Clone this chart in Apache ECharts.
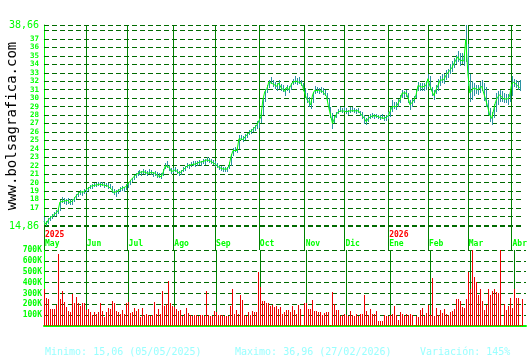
<!DOCTYPE html>
<html><head><meta charset="utf-8">
<script src="https://cdn.jsdelivr.net/npm/echarts@6/dist/echarts.min.js"></script>
<style>html,body{margin:0;padding:0;background:#fff}#c{width:530px;height:360px}</style>
</head><body><div id="c"></div>
<script>
const monthNames = ['May','Jun','Jul','Ago','Sep','Oct','Nov','Dic','Ene','Feb','Mar','Abr'];
const monthStart = [0,21,42,65,86,108,131,151,173,193,213,235];
const yearNames = ['2025','2026'];
const yearStart = [0,173];

const close = [
15.4,15.06,15.5,15.8,16.0,16.2,16.4,16.6,17.7,17.9,17.8,17.7,17.9,17.6,17.8,18.0,18.4,18.6,18.9,18.7,18.9,
19.1,19.3,19.5,19.6,19.8,19.7,19.9,19.8,19.9,19.7,19.8,19.6,19.5,19.2,18.8,18.7,19.0,19.2,19.3,19.2,19.5,
19.7,20.1,20.4,20.6,20.9,21.1,21.2,21.0,21.3,21.2,21.1,21.3,21.2,21.0,21.1,20.8,20.9,20.7,21.3,22.0,22.1,21.8,21.3,
21.4,21.5,21.3,21.1,21.2,21.5,21.7,22.0,21.9,22.1,22.3,22.2,22.3,22.4,22.3,22.5,22.4,22.7,22.6,22.5,22.4,
22.2,22.0,21.8,21.7,21.6,21.5,21.6,22.0,23.1,23.8,23.9,23.8,25.2,25.3,25.1,25.4,25.6,25.9,26.0,26.3,26.4,26.8,
27.0,27.8,29.8,30.8,31.1,31.9,32.1,31.7,31.5,31.4,31.8,31.3,31.1,30.8,31.3,31.0,31.5,31.9,32.1,32.0,32.1,31.8,31.4,
30.6,29.9,29.6,29.2,30.4,30.9,31.0,30.9,31.0,30.8,30.6,30.2,29.0,28.0,27.0,27.6,28.1,28.4,28.6,28.5,
28.6,28.4,28.3,28.5,28.6,28.5,28.4,28.5,28.2,28.0,27.6,27.2,27.6,27.8,27.9,27.8,27.9,27.8,27.7,27.8,27.6,27.6,
27.9,28.1,29.0,29.2,29.0,29.4,29.8,30.6,30.5,30.6,30.0,29.2,29.5,29.8,30.4,31.5,31.4,31.3,31.4,31.5,
32.3,31.4,30.8,30.3,31.0,31.5,32.1,32.3,32.2,32.7,32.9,33.3,33.6,34.1,34.5,34.9,34.5,34.7,34.4,36.96,
33.1,30.6,30.9,31.2,31.1,31.0,31.2,31.4,31.2,29.8,29.0,28.0,27.6,28.6,29.6,30.1,30.4,30.2,29.9,30.0,29.9,30.2,
31.6,31.9,31.7,31.5,31.2
];
const high = [
15.9,15.5,15.8,16.1,16.3,16.5,16.7,17.0,17.9,18.3,18.2,18.0,18.2,18.0,18.1,18.3,18.6,18.9,19.1,19.0,19.2,
19.3,19.5,19.7,19.8,20.0,19.9,20.1,20.1,20.1,20.0,20.0,19.9,19.8,19.6,19.2,19.1,19.3,19.5,19.6,19.5,19.8,
20.0,20.3,20.6,20.9,21.1,21.4,21.5,21.4,21.6,21.5,21.4,21.6,21.5,21.3,21.4,21.2,21.1,21.1,21.6,22.3,22.5,22.1,21.7,
21.7,21.8,21.6,21.4,21.5,21.8,22.0,22.3,22.2,22.4,22.6,22.5,22.6,22.7,22.6,22.8,22.8,23.0,22.9,22.8,22.7,
22.5,22.3,22.1,22.0,21.9,21.8,21.9,22.4,23.4,24.1,24.2,24.1,25.6,25.6,25.5,25.7,25.9,26.2,26.3,26.6,26.8,27.3,
27.4,28.6,30.0,31.1,31.5,32.2,32.5,32.2,31.9,31.8,32.2,31.7,31.5,31.2,31.6,31.4,31.8,32.3,32.6,32.4,32.5,32.2,31.8,
31.2,30.6,30.1,29.8,30.7,31.4,31.3,31.2,31.3,31.2,31.0,30.6,30.0,28.9,28.2,27.9,28.4,28.7,28.9,28.8,
28.9,28.8,28.6,28.9,28.9,28.8,28.7,28.8,28.5,28.3,28.0,27.7,27.9,28.1,28.2,28.1,28.1,28.0,28.0,28.1,27.9,28.0,
28.3,29.0,29.8,29.6,29.5,29.9,30.4,31.0,30.9,31.0,30.6,29.8,29.9,30.2,31.0,31.9,31.8,31.8,31.8,32.0,
32.8,32.6,31.3,31.0,31.5,32.3,32.6,32.9,32.8,33.3,33.5,34.0,34.4,34.8,35.1,35.6,35.3,35.4,35.2,38.66,
36.4,32.9,32.0,31.8,31.6,31.5,31.9,32.1,31.8,31.3,29.8,28.8,28.3,29.3,30.6,30.8,31.0,30.8,30.6,30.5,30.5,30.8,
32.6,32.3,32.1,32.0,32.1
];
const low = [
15.1,14.86,15.1,15.4,15.7,15.9,16.1,16.3,16.6,17.6,17.5,17.4,17.5,17.3,17.4,17.7,18.0,18.3,18.5,18.4,18.6,
18.8,19.0,19.2,19.3,19.5,19.5,19.6,19.5,19.6,19.4,19.5,19.3,19.2,18.8,18.5,18.3,18.7,18.9,19.0,18.9,19.1,
19.4,19.7,20.1,20.3,20.6,20.8,20.9,20.8,21.0,20.9,20.8,21.0,20.9,20.7,20.8,20.5,20.6,20.4,20.8,21.6,21.7,21.4,21.0,
21.1,21.2,21.0,20.8,20.9,21.2,21.4,21.7,21.6,21.8,22.0,21.9,22.0,22.1,22.0,22.2,22.1,22.4,22.3,22.2,22.1,
21.9,21.7,21.5,21.4,21.3,21.2,21.3,21.6,22.0,23.2,23.6,23.5,24.0,25.0,24.8,25.1,25.3,25.6,25.7,26.0,26.1,26.3,
26.5,27.0,28.0,29.6,30.6,31.2,31.7,31.3,31.1,30.8,31.1,30.9,30.7,30.3,30.8,30.6,31.0,31.5,31.7,31.6,31.7,31.4,30.9,
30.0,29.4,28.9,28.7,29.4,30.5,30.6,30.5,30.6,30.4,30.2,29.6,28.5,27.6,26.4,27.1,27.7,28.1,28.3,28.2,
28.3,28.1,28.0,28.2,28.3,28.2,28.1,28.2,27.9,27.5,26.9,26.8,27.2,27.5,27.6,27.5,27.6,27.5,27.4,27.5,27.3,27.3,
27.5,27.8,28.3,28.7,28.6,28.9,29.4,30.0,30.0,30.1,29.4,28.6,28.9,29.4,30.0,30.9,30.9,30.8,30.9,31.0,
31.3,31.0,30.3,29.8,30.5,30.9,31.4,31.8,31.7,32.1,32.4,32.8,33.1,33.6,34.0,34.3,33.8,34.0,33.8,34.3,
31.4,29.6,29.8,30.3,30.5,30.4,30.6,30.8,29.7,29.0,28.0,27.2,26.8,27.6,28.3,29.2,29.6,29.6,29.4,29.4,29.2,29.6,
30.3,31.3,31.2,31.0,30.9
];
const volumeK = [
340,257,250,155,160,160,195,663,248,325,223,175,140,125,297,210,270,210,183,210,210,
145,160,130,105,130,110,130,208,138,85,130,165,155,232,208,140,130,110,150,113,211,
223,120,128,168,140,160,80,168,98,110,104,92,98,220,110,160,110,324,187,205,416,208,187,
177,160,134,150,89,110,168,120,104,89,101,104,89,98,104,89,324,104,89,89,134,
131,104,98,98,89,89,92,187,342,110,150,110,287,241,98,89,131,98,141,125,131,500,
360,230,
226,211,211,187,196,174,187,159,174,110,131,150,147,131,187,144,110,196,156,12,
211,211,159,159,242,135,135,131,131,104,119,131,131,12,309,205,150,150,89,98,
110,104,92,135,104,89,110,92,113,113,287,141,104,159,110,110,135,49,49,49,
98,89,92,104,110,187,98,58,131,110,89,110,104,110,104,12,92,80,150,168,
89,119,196,104,443,89,168,104,150,119,156,110,104,131,135,156,251,251,226,174,
168,248,501,342,700,450,404,287,342,232,150,196,340,287,324,340,309,303,700,10,
202,150,180,260,168,340,260,260,10,251
];
const priceMin = 14.86, priceMax = 38.66;
const priceGrid = [14.86,15,16,17,18,19,20,21,22,23,24,25,26,27,28,29,30,31,32,33,34,35,36,37,38,38.66];
const priceLabels = [14.86,17,18,19,20,21,22,23,24,25,26,27,28,29,30,31,32,33,34,35,36,37,38.66];
const volMax = 700, volStep = 100;
const footer = ['Minimo: 15,06 (05/05/2025)','Maximo: 36,96 (27/02/2026)','Variación: 145%'];
const footerX = [45, 235, 420];

const MONO = '"DejaVu Sans Mono", monospace';
const N = close.length + 2;
const cats = Array.from({length: N}, (_, i) => String(i));
const isStart = (i) => monthStart.indexOf(i) >= 0;

function vRect(x, ya, yb, color) {
  const px = Math.round(x);
  const y0 = Math.round(Math.min(ya, yb)), y1 = Math.round(Math.max(ya, yb));
  return {type: 'rect', shape: {x: px, y: y0, width: 1, height: Math.max(1, y1 - y0)},
    style: {fill: color, stroke: null, lineWidth: 0}};
}

const chart = echarts.init(document.getElementById('c'), null, {renderer: 'canvas'});
chart.setOption({
  animation: false,
  backgroundColor: '#ffffff',
  grid: [
    {left: 44, right: 4, top: 25, height: 201},
    {left: 44, right: 4, top: 250, height: 76}
  ],
  xAxis: [
    {
      type: 'category', gridIndex: 0, data: cats, boundaryGap: false,
      axisLine: {show: false},
      axisTick: {show: true, interval: isStart, length: 24, lineStyle: {color: '#008000'}},
      axisLabel: {
        interval: isStart, align: 'left', margin: 4,
        formatter: (v) => {
          const idx = Number(v);
          const m = monthStart.indexOf(idx);
          const y = yearStart.indexOf(idx);
          return '{y|' + (y >= 0 ? yearNames[y] : ' ') + '}\n{m|' + (m >= 0 ? monthNames[m] : '') + '}';
        },
        rich: {
          y: {color: '#ff0000', fontFamily: MONO, fontSize: 8, fontWeight: 'bold', lineHeight: 9, padding: [0,0,0,1]},
          m: {color: '#00ff00', fontFamily: MONO, fontSize: 8, fontWeight: 'bold', lineHeight: 9, padding: [0,0,0,1]}
        }
      },
      splitLine: {show: true, interval: isStart, lineStyle: {color: '#008000', width: 1}}
    },
    {
      type: 'category', gridIndex: 1, data: cats, boundaryGap: false,
      axisLine: {show: true, lineStyle: {color: '#00ff00', width: 2}},
      axisTick: {show: false},
      axisLabel: {show: false},
      splitLine: {show: true, interval: isStart, lineStyle: {color: '#008000', width: 1}}
    }
  ],
  yAxis: [
    {
      type: 'value', gridIndex: 0, min: priceMin, max: priceMax,
      splitLine: {show: false},
      axisLine: {show: true, lineStyle: {color: '#00ff00'}},
      axisTick: {show: false},
      axisLabel: {
        customValues: priceLabels, margin: 5,
        formatter: (v) => (v === priceMin || v === priceMax)
          ? '{b|' + v.toFixed(2).replace('.', ',') + '}'
          : '{s|' + v + '}',
        rich: {
          b: {color: '#00ff00', fontFamily: MONO, fontSize: 10},
          s: {color: '#00ff00', fontFamily: MONO, fontSize: 7.5, fontWeight: 'bold'}
        }
      }
    },
    {
      type: 'value', gridIndex: 1, min: 0, max: volMax, interval: volStep,
      splitLine: {show: true, lineStyle: {color: '#006a00', type: [5, 3]}},
      axisLine: {show: true, lineStyle: {color: '#00ff00'}},
      axisTick: {show: false},
      axisLabel: {
        margin: 2, color: '#00ff00', fontFamily: MONO, fontSize: 8, fontWeight: 'bold',
        formatter: (v) => v === 0 ? '' : v + 'K'
      }
    }
  ],
  series: [
    {
      type: 'custom', xAxisIndex: 0, yAxisIndex: 0, z: 3, silent: true,
      itemStyle: {color: '#2b93a3'},
      data: close.map((c, i) => [i, low[i], high[i]]),
      encode: {x: 0, y: [1, 2]},
      renderItem: (params, api) => {
        const x = api.value(0);
        const p1 = api.coord([x, api.value(1)]);
        const p2 = api.coord([x, api.value(2)]);
        return vRect(p1[0], p1[1], p2[1], '#2b93a3');
      }
    },
    {
      type: 'line', xAxisIndex: 0, yAxisIndex: 0, z: 4, silent: true,
      data: close, symbol: 'none',
      lineStyle: {color: '#00ff00', width: 1},
      markLine: {
        silent: true, symbol: 'none', z: 1, animation: false,
        label: {show: false},
        lineStyle: {color: '#006a00', type: [5, 3], width: 1},
        emphasis: {disabled: true},
        data: priceGrid.map(v => ({yAxis: v}))
      }
    },
    {
      type: 'custom', xAxisIndex: 1, yAxisIndex: 1, z: 3, silent: true,
      itemStyle: {color: '#ee0000'},
      data: volumeK.map((v, i) => [i, v]),
      encode: {x: 0, y: 1},
      renderItem: (params, api) => {
        const x = api.value(0);
        const top = api.coord([x, api.value(1)]);
        const base = api.coord([x, 0]);
        return vRect(top[0], base[1], top[1], '#ee0000');
      }
    }
  ],
  graphic: [
    {type: 'text', x: 12, y: 126, rotation: Math.PI / 2,
      style: {text: 'www.bolsagrafica.com', font: '14px ' + MONO, fill: '#000000',
        align: 'center', verticalAlign: 'middle', textAlign: 'center', textVerticalAlign: 'middle'}}
  ].concat(footer.map((t, k) => ({
    type: 'text', x: footerX[k], y: 352,
    style: {text: t, font: '10px ' + MONO, fill: '#99ffff', verticalAlign: 'middle', textVerticalAlign: 'middle'}
  })))
});
</script></body></html>
